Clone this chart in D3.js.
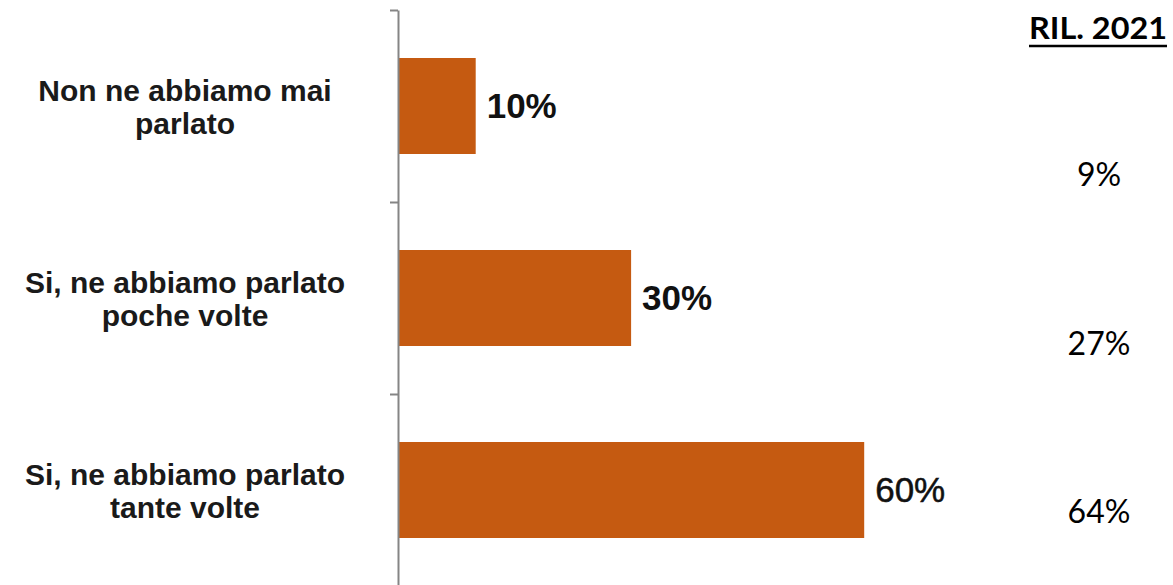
<!DOCTYPE html>
<html>
<head>
<meta charset="utf-8">
<script src="https://cdn.jsdelivr.net/npm/d3@7"></script>
<style>
  html, body { margin: 0; padding: 0; background: #fff; }
  svg { display: block; }
</style>
</head>
<body>
<svg id="chart" width="1173" height="585"></svg>
<script>
const categories = [
  ["Non ne abbiamo mai", "parlato"],
  ["Si, ne abbiamo parlato", "poche volte"],
  ["Si, ne abbiamo parlato", "tante volte"]
];
const values2023 = [0.10, 0.30, 0.60];
const valueLabels = ["10%", "30%", "60%"];
const valueWeights = ["bold", "bold", "normal"];
const rilTitle = "RIL. 2021";
const values2021 = ["9%", "27%", "64%"];

const svg = d3.select("#chart");
const keys = categories.map((d, i) => i);

const y = d3.scaleBand().domain(keys).range([10, 586]).paddingInner(0.5).paddingOuter(0.25);
const yEdge = d3.scaleLinear().domain([0, 3]).range([10, 586]);
const x = d3.scaleLinear().domain([0, 1]).range([398, 1175]);
const yRight = d3.scalePoint().domain(keys).range([186, 523]);

// bars
svg.append("g").selectAll("rect").data(values2023).join("rect")
  .attr("x", x(0))
  .attr("y", (d, i) => y(i))
  .attr("width", d => x(d) - x(0))
  .attr("height", y.bandwidth())
  .attr("fill", "#C55A11");

// axis
const axis = svg.append("g").attr("transform", `translate(${x(0)},0)`)
  .call(d3.axisLeft(yEdge).tickValues([0, 1, 2, 3]).tickSize(8).tickSizeOuter(0).tickFormat(""));
axis.selectAll("path,line").attr("stroke", "#858585").attr("stroke-width", 2);

// value labels
svg.append("g").selectAll("text").data(values2023).join("text")
  .attr("x", d => x(d) + 11)
  .attr("y", (d, i) => y(i) + y.bandwidth() / 2 + 12)
  .attr("font-family", "'Liberation Sans', Arial, sans-serif")
  .attr("font-size", 35)
  .attr("font-weight", (d, i) => valueWeights[i])
  .attr("stroke", (d, i) => valueWeights[i] === "normal" ? "#111" : "none")
  .attr("stroke-width", 0.5)
  .attr("fill", "#111")
  .text((d, i) => valueLabels[i]);

// category labels
const cat = svg.append("g").selectAll("text").data(categories).join("text")
  .attr("text-anchor", "middle")
  .attr("font-family", "'Liberation Sans', Arial, sans-serif")
  .attr("font-size", 30)
  .attr("font-weight", "bold")
  .attr("fill", "#1a1a1a");
cat.each(function(lines, i) {
  const cy = y(i) + y.bandwidth() / 2;
  d3.select(this).selectAll("tspan").data(lines).join("tspan")
    .attr("x", 185)
    .attr("y", (l, j) => cy - 5 + j * 33)
    .text(l => l);
});

// right column title
svg.append("text")
  .attr("x", 1098).attr("y", 39)
  .attr("text-anchor", "middle")
  .attr("font-family", "Lato, 'Open Sans', sans-serif")
  .attr("font-size", 31)
  .attr("font-weight", "bold")
  .attr("fill", "#000")
  .attr("textLength", 138)
  .attr("lengthAdjust", "spacingAndGlyphs")
  .text(rilTitle);
svg.append("line")
  .attr("x1", 1029).attr("x2", 1167).attr("y1", 46).attr("y2", 46)
  .attr("stroke", "#000").attr("stroke-width", 2.5);

// right column values
svg.append("g").selectAll("text").data(values2021).join("text")
  .attr("x", 1099)
  .attr("y", (d, i) => yRight(i))
  .attr("text-anchor", "middle")
  .attr("font-family", "Lato, 'Open Sans', sans-serif")
  .attr("font-size", 32)
  .attr("fill", "#000")
  .text(d => d);
</script>
</body>
</html>
